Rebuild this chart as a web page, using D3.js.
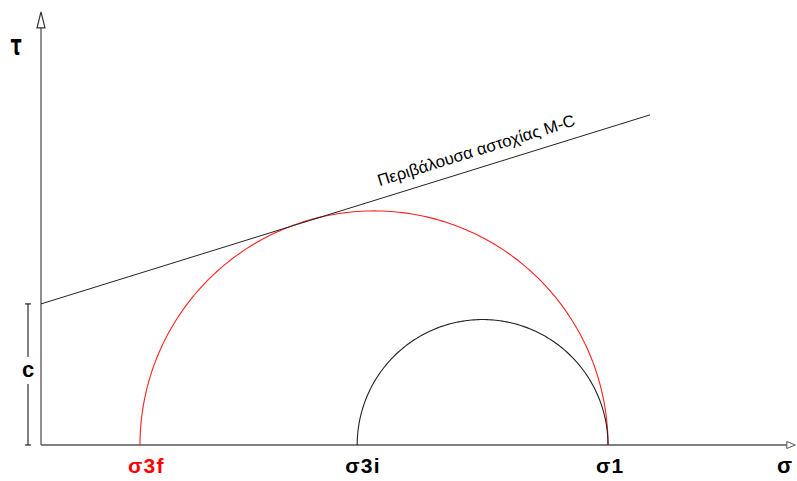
<!DOCTYPE html>
<html><head><meta charset="utf-8">
<script src="https://cdn.jsdelivr.net/npm/d3@7"></script>
<style>html,body{margin:0;padding:0;background:#fff;}svg{display:block;}</style>
</head><body>
<svg id="chart" width="797" height="481"></svg>
<script>
// ---- data (stress units) ----
const sigmaLabels = ["σ3f", "σ3i", "σ1"];
const sigmaValues = [16.5, 52.7, 94.5];
const sigmaColors = ["#ff0000", "#000000", "#000000"];
const circles = [
  { name: "final", s3: 16.5, s1: 94.5, color: "#ff2020" },
  { name: "initial", s3: 52.7, s1: 94.5, color: "#222222" }
];
const cohesion = [23.5];          // c
const frictionAngle = [17.24];    // φ (deg)
const envelopeRange = [0, 101.5]; // σ extent of failure envelope
const envelopeLabel = ["Περιβάλουσα αστοχίας M-C"];
const axisLabels = ["τ", "σ", "c"];

// ---- scales (equal units on both axes) ----
const svg = d3.select("#chart");
const x = d3.scaleLinear().domain([0, 126]).range([41, 797]);
const y = d3.scaleLinear().domain([0, 72.3]).range([445, 11]);

const axisColor = "#555";
const font = "Liberation Sans, Arial, sans-serif";

// axes
svg.append("line").attr("x1", x(0)).attr("x2", x(124.3)).attr("y1", y(0)).attr("y2", y(0))
  .attr("stroke", axisColor).attr("stroke-width", 1.3);
svg.append("line").attr("x1", x(0)).attr("x2", x(0)).attr("y1", y(0)).attr("y2", y(69.5))
  .attr("stroke", axisColor).attr("stroke-width", 1.3);
// arrow heads (hollow)
const xa = x(124.3), ya = y(0);
svg.append("path").attr("d", `M${xa},${ya-3.5} L${xa+8.5},${ya} L${xa},${ya+3.5} Z`)
  .attr("fill", "#fff").attr("stroke", axisColor).attr("stroke-width", 1);
const xb = x(0), yb = y(69.5);
svg.append("path").attr("d", `M${xb-4},${yb} L${xb},${yb-16} L${xb+4},${yb} Z`)
  .attr("fill", "#fff").attr("stroke", "#333").attr("stroke-width", 1.2);

// Mohr circles (upper halves)
const line = d3.line().x(d => x(d[0])).y(d => y(d[1]));
circles.forEach(c => {
  const ctr = (c.s1 + c.s3) / 2, r = (c.s1 - c.s3) / 2;
  const pts = d3.range(0, 181).map(a => {
    const t = Math.PI - a * Math.PI / 180;
    return [ctr + r * Math.cos(t), r * Math.sin(t)];
  });
  svg.append("path").attr("d", line(pts)).attr("fill", "none")
    .attr("stroke", c.color).attr("stroke-width", 1.1);
});

// failure envelope
const tanPhi = Math.tan(frictionAngle[0] * Math.PI / 180);
const env = envelopeRange.map(s => [s, cohesion[0] + s * tanPhi]);
svg.append("path").attr("d", line(env)).attr("fill", "none")
  .attr("stroke", "#222").attr("stroke-width", 1);

// envelope label along the line
const ang = Math.atan2(y(env[1][1]) - y(env[0][1]), x(env[1][0]) - x(env[0][0])) * 180 / Math.PI;
const ls = 57.0, lp = [x(ls), y(cohesion[0] + ls * tanPhi)];
svg.append("text")
  .attr("transform", `translate(${lp[0]},${lp[1]}) rotate(${ang}) translate(0,-12)`)
  .attr("font-family", font).attr("font-size", 16.5)
  .attr("textLength", 206).attr("lengthAdjust", "spacingAndGlyphs")
  .attr("fill", "#000").text(envelopeLabel[0]);

// cohesion bracket
const bx = 28;
svg.append("line").attr("x1", bx).attr("x2", bx).attr("y1", y(cohesion[0])).attr("y2", y(cohesion[0]) + 53)
  .attr("stroke", "#000").attr("stroke-width", 1);
svg.append("line").attr("x1", bx).attr("x2", bx).attr("y1", y(0) - 61).attr("y2", y(0))
  .attr("stroke", "#000").attr("stroke-width", 1);
[y(cohesion[0]), y(0)].forEach(v => {
  svg.append("line").attr("x1", bx - 3).attr("x2", bx + 3).attr("y1", v).attr("y2", v)
    .attr("stroke", "#000").attr("stroke-width", 1);
});
svg.append("text").attr("x", bx).attr("y", 377).attr("text-anchor", "middle")
  .attr("font-family", font).attr("font-weight", "bold")
  .attr("font-size", 22).text(axisLabels[2]);

// axis labels
svg.append("text").attr("transform", "translate(16,55) scale(0.8,1.3)").attr("text-anchor", "middle")
  .attr("font-family", "DejaVu Sans").attr("font-weight", "bold")
  .attr("font-size", 22).text(axisLabels[0]);
svg.append("text").attr("x", 777).attr("y", 473)
  .attr("font-family", font).attr("font-weight", "bold")
  .attr("font-size", 22).text(axisLabels[1]);

// sigma tick labels
sigmaValues.forEach((v, i) => {
  svg.append("text").attr("x", x(v) - 12).attr("y", 473)
    .attr("font-family", font).attr("font-weight", "bold")
    .attr("font-size", 21).attr("letter-spacing", 1.2)
    .attr("fill", sigmaColors[i]).text(sigmaLabels[i]);
});
</script>
</body></html>
